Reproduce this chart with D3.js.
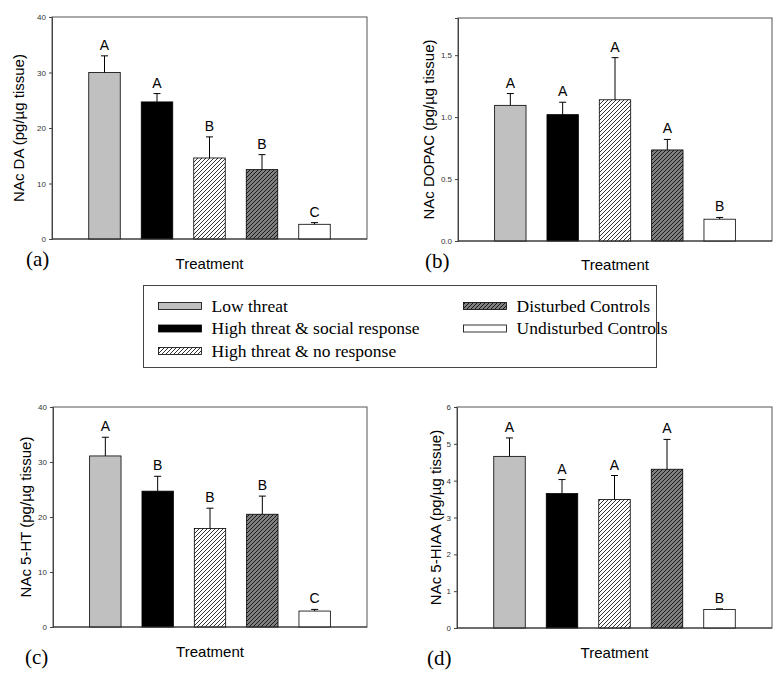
<!DOCTYPE html>
<html>
<head>
<meta charset="utf-8">
<script src="https://cdn.jsdelivr.net/npm/d3@7"></script>
<style>
  body { margin: 0; background: #fff; }
  svg { display: block; }
  .tick text { font-family: "Liberation Sans", Arial, sans-serif; font-size: 8px; fill: #333; }
  .tick line { stroke: #444; }
  .axis-label, .x-label, .sig { font-family: "Liberation Sans", Arial, sans-serif; fill: #000; }
  .panel-tag, .legend-text { font-family: "Liberation Serif", "Times New Roman", serif; fill: #000; }
</style>
</head>
<body>
<div id="chart"></div>
<script>
// groups, in drawing order
const groups = ["Low threat", "High threat & social response", "High threat & no response",
                "Disturbed Controls", "Undisturbed Controls"];

// (a) NAc DA
const daMean = [30.0, 24.7, 14.6, 12.5, 2.65];
const daSem = [3.0, 1.5, 3.8, 2.7, 0.3];
const daLetters = ["A", "A", "B", "B", "C"];
const daTicks = [0, 10, 20, 30, 40];

// (b) NAc DOPAC
const dopacMean = [1.095, 1.02, 1.14, 0.735, 0.176];
const dopacSem = [0.095, 0.10, 0.34, 0.085, 0.014];
const dopacLetters = ["A", "A", "A", "A", "B"];
const dopacTicks = [0, 0.5, 1.0, 1.5];

// (c) NAc 5-HT
const htMean = [31.1, 24.7, 17.9, 20.5, 2.9];
const htSem = [3.4, 2.7, 3.7, 3.3, 0.3];
const htLetters = ["A", "B", "B", "B", "C"];
const htTicks = [0, 10, 20, 30, 40];

// (d) NAc 5-HIAA
const hiaaMean = [4.66, 3.65, 3.49, 4.31, 0.50];
const hiaaSem = [0.50, 0.38, 0.65, 0.81, 0.02];
const hiaaLetters = ["A", "A", "A", "A", "B"];
const hiaaTicks = [0, 1, 2, 3, 4, 5, 6];

const W = 784, H = 681;
const svg = d3.select("#chart").append("svg")
    .attr("width", W).attr("height", H);

// fills for each group
const defs = svg.append("defs");
function hatch(id, bg) {
  let p = defs.append("pattern")
      .attr("id", id)
      .attr("patternUnits", "userSpaceOnUse")
      .attr("width", 4).attr("height", 4);
  p.append("rect").attr("width", 4).attr("height", 4).attr("fill", bg);
  p.append("path")
      .attr("d", "M-1,1 l2,-2 M0,4 l4,-4 M3,5 l2,-2")
      .attr("stroke", "#000").attr("stroke-width", 0.8);
}
hatch("hatch-white", "#fff");
hatch("hatch-gray", "#7f7f7f");
const fills = ["#c0c0c0", "#000", "url(#hatch-white)", "url(#hatch-gray)", "#fff"];

const panels = [
  {tag: "(a)", label: "NAc DA (pg/\u00b5g tissue)", mean: daMean, sem: daSem, letters: daLetters,
   ticks: daTicks, max: 40, fmt: d3.format("d"),
   box: {x0: 52, x1: 367, y0: 17, y1: 239}, labelX: 18, tagX: 26, tagY: 266, treatY: 269},
  {tag: "(b)", label: "NAc DOPAC  (pg/\u00b5g tissue)", mean: dopacMean, sem: dopacSem, letters: dopacLetters,
   ticks: dopacTicks, max: 1.8, fmt: d3.format(".1f"),
   box: {x0: 458, x1: 772, y0: 18, y1: 241}, labelX: 428, tagX: 425, tagY: 268, treatY: 270},
  {tag: "(c)", label: "NAc 5-HT (pg/\u00b5g tissue)", mean: htMean, sem: htSem, letters: htLetters,
   ticks: htTicks, max: 40, fmt: d3.format("d"),
   box: {x0: 53, x1: 367, y0: 407, y1: 627}, labelX: 25, tagX: 25, tagY: 664, treatY: 657},
  {tag: "(d)", label: "NAc 5-HIAA  (pg/\u00b5g tissue)", mean: hiaaMean, sem: hiaaSem, letters: hiaaLetters,
   ticks: hiaaTicks, max: 6, fmt: d3.format("d"),
   box: {x0: 457, x1: 772, y0: 407, y1: 628}, labelX: 435, tagX: 427, tagY: 665, treatY: 658}
];

panels.forEach(p => {
  let b = p.box;
  let x = d3.scaleBand().domain(groups).range([b.x0, b.x1])
      .paddingInner(0.4).paddingOuter(0.7);
  let y = d3.scaleLinear().domain([0, p.max]).range([b.y1, b.y0]);
  let g = svg.append("g");

  // frame
  g.append("rect")
    .attr("x", b.x0).attr("y", b.y0)
    .attr("width", b.x1 - b.x0).attr("height", b.y1 - b.y0)
    .attr("fill", "none").attr("stroke", "#555").attr("stroke-width", 1);

  // bars
  g.selectAll(".bar").data(groups).enter().append("rect")
    .attr("class", "bar")
    .attr("x", d => x(d))
    .attr("y", (d, i) => y(p.mean[i]))
    .attr("width", x.bandwidth())
    .attr("height", (d, i) => y(0) - y(p.mean[i]))
    .attr("fill", (d, i) => fills[i])
    .attr("stroke", "#000").attr("stroke-width", 0.8);

  // error bars (upper only)
  groups.forEach((d, i) => {
    let cx = x(d) + x.bandwidth() / 2;
    let top = y(p.mean[i] + p.sem[i]);
    g.append("line").attr("x1", cx).attr("x2", cx)
      .attr("y1", y(p.mean[i])).attr("y2", top)
      .attr("stroke", "#000").attr("stroke-width", 1);
    g.append("line").attr("x1", cx - 3.5).attr("x2", cx + 3.5)
      .attr("y1", top).attr("y2", top)
      .attr("stroke", "#000").attr("stroke-width", 1);
    g.append("text").attr("class", "sig")
      .attr("x", cx).attr("y", top - 6)
      .attr("text-anchor", "middle")
      .attr("font-size", 14)
      .text(p.letters[i]);
  });

  // y axis
  let ax = g.append("g")
    .attr("transform", "translate(" + b.x0 + ",0)")
    .call(d3.axisLeft(y).tickValues(p.ticks).tickFormat(p.fmt).tickSize(3).tickPadding(3));
  ax.select(".domain").attr("stroke", "#444");

  // bottom axis line, darker
  g.append("line").attr("x1", b.x0).attr("x2", b.x1)
    .attr("y1", b.y1).attr("y2", b.y1)
    .attr("stroke", "#333").attr("stroke-width", 1);

  g.append("text").attr("class", "axis-label")
    .attr("transform", "translate(" + p.labelX + "," + ((b.y0 + b.y1) / 2) + ") rotate(-90)")
    .attr("text-anchor", "middle")
    .attr("dominant-baseline", "central")
    .attr("font-size", 15)
    .text(p.label);

  g.append("text").attr("class", "x-label")
    .attr("x", (b.x0 + b.x1) / 2).attr("y", p.treatY)
    .attr("text-anchor", "middle")
    .attr("font-size", 15)
    .text("Treatment");

  g.append("text").attr("class", "panel-tag")
    .attr("x", p.tagX).attr("y", p.tagY)
    .attr("font-size", 21)
    .text(p.tag);
});

// legend
const legend = svg.append("g");
legend.append("rect")
  .attr("x", 143.5).attr("y", 285.5).attr("width", 513).attr("height", 82)
  .attr("fill", "none").attr("stroke", "#444").attr("stroke-width", 1);

const legendCol = [0, 0, 0, 1, 1];
const legendRow = [0, 1, 2, 0, 1];
const colX = d3.scaleOrdinal().domain([0, 1]).range([158.5, 463.5]);
const rowY = d3.scalePoint().domain([0, 1, 2]).range([306, 351]);

groups.forEach((name, i) => {
  let lx = colX(legendCol[i]), ly = rowY(legendRow[i]);
  legend.append("rect")
    .attr("x", lx).attr("y", ly - 3.5)
    .attr("width", 43).attr("height", 7)
    .attr("fill", fills[i])
    .attr("stroke", "#000").attr("stroke-width", 0.8);
  legend.append("text").attr("class", "legend-text")
    .attr("x", lx + 53).attr("y", ly + 5.5)
    .attr("font-size", 17.5)
    .text(name);
});
</script>
</body>
</html>
